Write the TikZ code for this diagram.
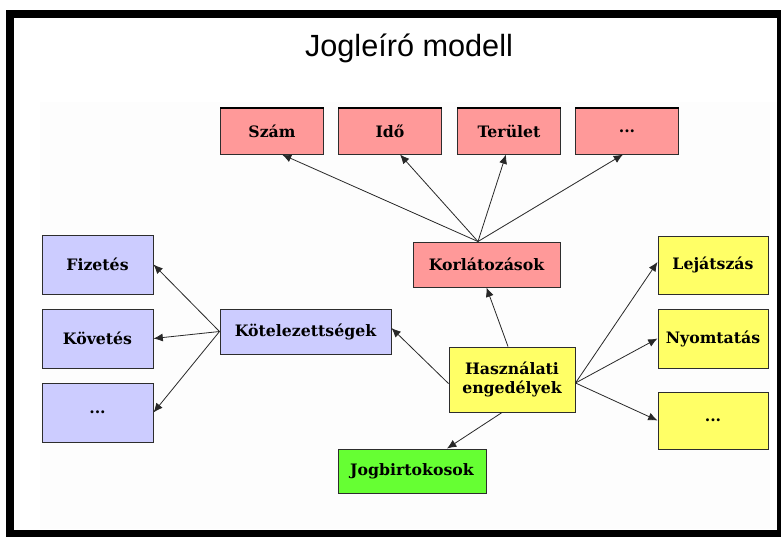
\documentclass[tikz,border=0pt]{standalone}
\usepackage{fontspec}
\setmainfont{DejaVu Serif}
\newfontfamily\titlefont{Liberation Sans}
\usetikzlibrary{arrows.meta}

\definecolor{rozsa}{RGB}{255,153,153}
\definecolor{lila}{RGB}{204,204,255}
\definecolor{sarga}{RGB}{255,255,102}
\definecolor{zold}{RGB}{102,255,51}
\definecolor{keret}{RGB}{45,45,45}
\definecolor{nyilszin}{RGB}{40,40,40}
\definecolor{hatter}{RGB}{253,253,253}

\tikzset{
  doboz/.style={draw=keret, line width=0.75pt, inner sep=0pt, align=center,
    font=\fontsize{11.8}{14.5}\selectfont\bfseries},
  nyil/.style={draw=nyilszin, line width=0.6pt, -{Latex[length=7pt,width=6pt]}},
}

\begin{document}
\begin{tikzpicture}[x=0.75pt,y=0.75pt,yscale=-1,xscale=1]
\useasboundingbox (0,0) rectangle (781,536);
\clip (0,0) rectangle (781,536);

% Background and frame
\fill[white] (0,0) rectangle (781,536);
\fill[hatter] (40,102) rectangle (777,529);
\draw[line width=6pt] (10,13.5) rectangle (781,534);

% Title
\node (cim) at (409,48) {\titlefont\fontsize{23}{27}\selectfont Jogleíró modell};

% Korlatozasok
\node[doboz, fill=rozsa, minimum width=77.25pt, minimum height=34.5pt] (szam) at (272,131) {Szám};
\node[doboz, fill=rozsa, minimum width=77.25pt, minimum height=34.5pt] (ido) at (390,131) {Idő};
\node[doboz, fill=rozsa, minimum width=77.25pt, minimum height=34.5pt] (terulet) at (509,131) {Terület};
\node[doboz, fill=rozsa, minimum width=77.25pt, minimum height=34.5pt] (kmas) at (627,131) {...};
\foreach \n in {szam,ido,terulet,kmas}
  \draw[line width=1.5pt] (\n.north west) -- (\n.north east);
\node[doboz, fill=rozsa, minimum width=110.25pt, minimum height=33.75pt] (korlat) at (486.5,264.5) {Korlátozások};

% Kotelezettsegek
\node[doboz, fill=lila, minimum width=83.25pt, minimum height=44.25pt] (fizetes) at (97.5,264.5) {Fizetés};
\node[doboz, fill=lila, minimum width=83.25pt, minimum height=44.25pt] (kovetes) at (97.5,338.5) {Követés};
\node[doboz, fill=lila, minimum width=83.25pt, minimum height=44.25pt] (omas) at (97.5,412.5) {...};
\node[doboz, fill=lila, minimum width=128.25pt, minimum height=33.75pt] (kotel) at (305.5,331.5) {Kötelezettségek};

% Hasznalati engedelyek
\node[doboz, fill=sarga, minimum width=94.5pt, minimum height=48.75pt] (hasznalat) at (512,379.5) {Használati\\engedélyek};
\node[doboz, fill=sarga, minimum width=82.5pt, minimum height=43.5pt] (lejatszas) at (713,265) {Lejátszás};
\node[doboz, fill=sarga, minimum width=82.5pt, minimum height=44.25pt] (nyomtatas) at (713,338.5) {Nyomtatás};
\node[doboz, fill=sarga, minimum width=82.5pt, minimum height=42.75pt] (hmas) at (713,420.5) {...};

% Jogbirtokosok
\node[doboz, fill=zold, minimum width=111pt, minimum height=33pt] (jog) at (412,471) {Jogbirtokosok};

% Arrows
\draw[nyil] ([xshift=-6.4pt]korlat.north) -- ([xshift=7.5pt]szam.south);
\draw[nyil] ([xshift=-6.4pt]korlat.north) -- ([xshift=7.5pt]ido.south);
\draw[nyil] ([xshift=-6.4pt]korlat.north) -- ([xshift=-2.25pt]terulet.south);
\draw[nyil] ([xshift=-6.4pt]korlat.north) -- ([xshift=-3pt]kmas.south);

\draw[nyil] (kotel.west) -- (fizetes.east);
\draw[nyil] (kotel.west) -- (kovetes.east);
\draw[nyil] (kotel.west) -- (omas.east);

\draw[nyil] ([xshift=-3pt]hasznalat.north) -- (korlat.south);
\draw[nyil] ([yshift=3pt]hasznalat.west) -- ([yshift=-2.6pt]kotel.east);
\draw[nyil] ([xshift=-7.5pt]hasznalat.south) -- ([xshift=26.25pt]jog.north);
\draw[nyil] ([yshift=2.6pt]hasznalat.east) -- ([yshift=-2.25pt]lejatszas.west);
\draw[nyil] ([yshift=2.6pt]hasznalat.east) -- (nyomtatas.west);
\draw[nyil] ([yshift=2.6pt]hasznalat.east) -- (hmas.west);

\end{tikzpicture}
\end{document}
